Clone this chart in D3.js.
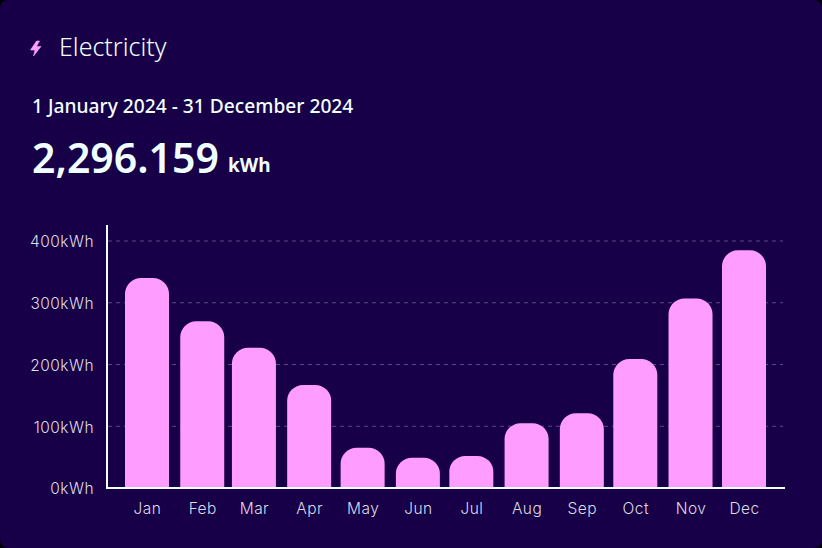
<!DOCTYPE html>
<html>
<head>
<meta charset="utf-8">
<script src="https://cdn.jsdelivr.net/npm/d3@7"></script>
<style>
  html, body { margin: 0; padding: 0; background: #000; }
  svg { display: block; }
  text { font-family: "Noto Sans", Lato, sans-serif; }
  .tick-label { font-family: Inter, Lato, sans-serif; font-weight: 300; letter-spacing: 0.45px; }
</style>
</head>
<body>
<div id="chart"></div>
<script>
// Monthly electricity use for 2024
const months = ['2024-01-01', '2024-02-01', '2024-03-01', '2024-04-01', '2024-05-01', '2024-06-01',
  '2024-07-01', '2024-08-01', '2024-09-01', '2024-10-01', '2024-11-01', '2024-12-01'];
const monthLabels = ['Jan', 'Feb', 'Mar', 'Apr', 'May', 'Jun', 'Jul', 'Aug', 'Sep', 'Oct', 'Nov', 'Dec'];
const usage = [340, 270, 227, 167, 65, 49, 52, 105, 121, 209, 307, 385];
const yTicks = [0, 100, 200, 300, 400];

const title = 'Electricity';
const dateRange = '1 January 2024 - 31 December 2024';
const total = '2,296.159';
const unit = 'kWh';

const width = 822, height = 548;
const bg = '#180048', pink = '#ff9cff', white = '#f0ffff', muted = '#dcdce6';

const svg = d3.select('#chart').append('svg').attr('width', width).attr('height', height);
svg.append('rect').attr('width', width).attr('height', height).attr('rx', 8).attr('fill', bg);

// Header
svg.append('path')
  .attr('d', 'M36.5 41 L30.5 50 L35 50 L33.5 56 L41 46.5 L36.5 46.5 L39.5 41 Z')
  .attr('fill', pink).attr('stroke', pink).attr('stroke-width', 0.6).attr('stroke-linejoin', 'round');
svg.append('text').attr('x', 59).attr('y', 56).attr('font-size', 25).attr('fill', white).attr('font-weight', 300).text(title);
svg.append('text').attr('x', 32).attr('y', 113).attr('font-size', 19.2).attr('fill', white).attr('font-weight', 500).text(dateRange);
svg.append('text').attr('x', 32).attr('y', 173).attr('font-size', 41).attr('fill', white).attr('font-weight', 600).text(total);
svg.append('text').attr('x', 228).attr('y', 172).attr('font-size', 19).attr('fill', white).attr('font-weight', 700).text(unit);

// Bars sit on a time scale, so the gaps follow the month lengths
const parseDate = d3.utcParse('%Y-%m-%d');
const dates = months.map(parseDate);
const x = d3.scaleUtc().domain([dates[0], dates[dates.length - 1]]).range([147, 744]);
const y = d3.scaleLinear().domain([0, 400]).range([488, 241]);
const barW = 44, barR = 16;

// Grid
svg.append('g').selectAll('line')
  .data(yTicks.slice(1))
  .enter().append('line')
  .attr('x1', 108).attr('x2', 783)
  .attr('y1', d => y(d)).attr('y2', d => y(d))
  .attr('stroke', '#5d4a80').attr('stroke-width', 1).attr('stroke-dasharray', '4 4');

// Bars
svg.append('g').selectAll('path')
  .data(usage)
  .enter().append('path')
  .attr('fill', pink)
  .attr('d', (d, i) => {
    const left = x(dates[i]) - barW / 2, top = y(d), bottom = y(0);
    return `M${left},${bottom}V${top + barR}A${barR},${barR} 0 0 1 ${left + barR},${top}` +
      `H${left + barW - barR}A${barR},${barR} 0 0 1 ${left + barW},${top + barR}V${bottom}Z`;
  });

// Axes
const yAxis = svg.append('g').attr('transform', 'translate(107,1)')
  .call(d3.axisLeft(y).tickValues(yTicks).tickSize(0).tickPadding(13).tickFormat(d => d + 'kWh'));
yAxis.select('.domain').remove();
yAxis.selectAll('text').attr('class', 'tick-label').attr('fill', muted).style('font-size', '15.5px');

const xAxis = svg.append('g').attr('transform', 'translate(0,490)')
  .call(d3.axisBottom(x).tickValues(dates).tickSize(0).tickPadding(13).tickFormat((d, i) => monthLabels[i]));
xAxis.select('.domain').remove();
xAxis.selectAll('text').attr('class', 'tick-label').attr('fill', muted).style('font-size', '15.5px');

svg.append('line').attr('x1', 107).attr('x2', 107).attr('y1', 225).attr('y2', 489).attr('stroke', white).attr('stroke-width', 2);
svg.append('line').attr('x1', 106).attr('x2', 785).attr('y1', 488).attr('y2', 488).attr('stroke', white).attr('stroke-width', 2);
</script>
</body>
</html>
